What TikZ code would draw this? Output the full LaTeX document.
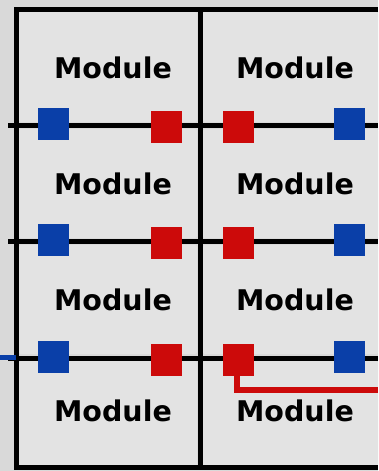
\documentclass[tikz,border=0pt]{standalone}
\usepackage{fontspec}
\setmainfont{DejaVu Sans}
\definecolor{bgc}{HTML}{D9D9D9}
\definecolor{cellc}{HTML}{E3E3E3}
\definecolor{bluec}{HTML}{0A3FA8}
\definecolor{redc}{HTML}{CC0A0A}
\tikzset{
  gridline/.style={line width=5pt, black},
  sq/.style={minimum width=31pt, minimum height=32pt, inner sep=0pt, draw=none},
  bsq/.style={sq, fill=bluec},
  rsq/.style={sq, fill=redc},
  lbl/.style={font=\bfseries\fontsize{28.5}{30}\selectfont, inner sep=0pt},
  cell/.style={fill=cellc, draw=none, rounded corners=2pt},
}
\begin{document}
\begin{tikzpicture}[x=1pt,y=-1pt]
\useasboundingbox (0,0) rectangle (378,471);
\fill[bgc] (0,0) rectangle (378,471);
% cells
\foreach \yt/\yb in {12/122,129/238,245/354,361/466}{
  \fill[cell] (19,\yt) rectangle (197,\yb);
  \fill[cell] (203,\yt) rectangle (378,\yb);
}
% grid coordinates
\coordinate (tl) at (16,9.5);
\coordinate (tr) at (378,9.5);
\coordinate (bl) at (16,467);
\coordinate (br) at (378,467);
\coordinate (mt) at (200,9.5);
\coordinate (mb) at (200,467);
\foreach \i/\y in {1/125,2/241,3/358}{
  \coordinate (h\i l) at (8,\y);
  \coordinate (h\i r) at (378,\y);
}
\draw[gridline] (tr) -- (tl) -- (bl) -- (br);
\draw[gridline] (mt) -- (mb);
\foreach \i in {1,2,3}{ \draw[gridline] (h\i l) -- (h\i r); }
% squares
\foreach \i/\y in {1/124,2/240,3/357}{
  \node[bsq] (bl\i) at (53,\y) {};
  \node[rsq] (rl\i) at (166.5,\y+3) {};
  \node[rsq] (rr\i) at (238,\y+3) {};
  \node[bsq] (br\i) at (349.5,\y) {};
}
% feed lines
\coordinate (bin) at (0,357);
\draw[bluec, line width=5pt] (bin) -- (16,357);
\coordinate (rout) at (378,390);
\draw[redc, line width=6pt] (rr3.south) ++(-1,0) |- (rout);
% labels
\foreach \i/\y in {1/68,2/184,3/300,4/411}{
  \node[lbl] (ml\i) at (113,\y) {Module};
  \node[lbl] (mr\i) at (295,\y) {Module};
}
\end{tikzpicture}
\end{document}
